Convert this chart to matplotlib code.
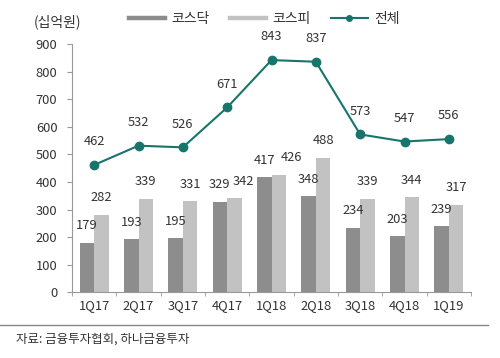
import matplotlib
matplotlib.use("Agg")
import matplotlib.pyplot as plt
from matplotlib.lines import Line2D
import numpy as np

plt.rcParams['font.family'] = ['Noto Sans CJK KR', 'DejaVu Sans']

categories = ["1Q17", "2Q17", "3Q17", "4Q17", "1Q18", "2Q18", "3Q18", "4Q18", "1Q19"]
kosdaq = [179, 193, 195, 329, 417, 348, 234, 203, 239]
kospi = [282, 339, 331, 342, 426, 488, 339, 344, 317]
total = [462, 532, 526, 671, 843, 837, 573, 547, 556]
yticks = [0, 100, 200, 300, 400, 500, 600, 700, 800, 900]

c_dark = "#8d8d8d"
c_light = "#c2c2c2"
c_line = "#17756b"
c_text = "#333333"

fig = plt.figure(figsize=(5.0, 3.58), dpi=100)
ax = fig.add_axes([0.144, 0.184, 0.798, 0.692])

x = np.arange(len(categories))
w = 0.33
ax.bar(x - w / 2, kosdaq, w, color=c_dark, zorder=2)
ax.bar(x + w / 2, kospi, w, color=c_light, zorder=2)
ax.plot(x, total, color=c_line, lw=1.5, marker="o", ms=6, zorder=3)

fs = 9.3
# small horizontal nudges (points) for crowded KOSPI labels, as in the original
kospi_nudge = {3: 6.5, 4: 9.0}
for i in range(len(x)):
    ax.annotate(str(kosdaq[i]), (x[i] - w / 2, kosdaq[i]), xytext=(0, 7.5), textcoords="offset points",
                ha="center", va="bottom", fontsize=fs, color=c_text)
    ax.annotate(str(kospi[i]), (x[i] + w / 2, kospi[i]), xytext=(kospi_nudge.get(i, 0), 7.5),
                textcoords="offset points", ha="center", va="bottom", fontsize=fs, color=c_text)
    ax.annotate(str(total[i]), (x[i], total[i]), xytext=(0, 12), textcoords="offset points",
                ha="center", va="bottom", fontsize=fs, color=c_text)

ax.set_xlim(-0.5, len(categories) - 0.5)
ax.set_ylim(0, 900)
ax.set_yticks(yticks)
ax.set_yticklabels([str(v) for v in yticks], fontsize=fs, color=c_text)
ax.set_xticks(x)
ax.set_xticklabels(categories, fontsize=fs, color=c_text)
ax.set_xticks(np.arange(len(categories) + 1) - 0.5, minor=True)
ax.tick_params(axis="x", which="major", length=0, pad=5)
ax.tick_params(axis="x", which="minor", length=3, color="#999999", direction="out")
ax.tick_params(axis="y", length=3.5, color="#999999", direction="out", pad=7)
for s in ["top", "right"]:
    ax.spines[s].set_visible(False)
for s in ["left", "bottom"]:
    ax.spines[s].set_color("#999999")
    ax.spines[s].set_linewidth(0.8)

handles = [
    Line2D([0], [0], color=c_dark, lw=3.2),
    Line2D([0], [0], color=c_light, lw=3.2),
    Line2D([0], [0], color=c_line, lw=1.5, marker="o", ms=4),
]
fig.legend(handles, ["코스닥", "코스피", "전체"], loc="center left", bbox_to_anchor=(0.232, 0.948),
           ncol=3, frameon=False, fontsize=10, handlelength=2.6, handletextpad=0.45, columnspacing=1.5,
           labelcolor=c_text)

fig.text(0.068, 0.938, "(십억원)", fontsize=10, color=c_text, ha="left", va="center")

fig.add_artist(Line2D([0.0, 0.975], [0.091, 0.091], color="#888888", lw=1.0))
fig.text(0.032, 0.052, "자료: 금융투자협회, 하나금융투자", fontsize=9, color=c_text, ha="left", va="center")

fig.savefig("out.png", dpi=100, facecolor="white")
